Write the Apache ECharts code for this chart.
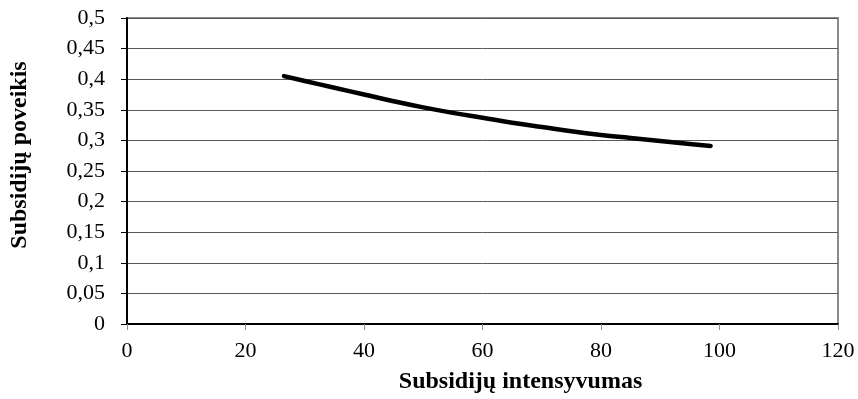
<!DOCTYPE html>
<html>
<head>
<meta charset="utf-8">
<script src="https://cdn.jsdelivr.net/npm/echarts@6/dist/echarts.min.js"></script>
<style>
  html, body { margin: 0; padding: 0; background: #ffffff; }
  #chart { width: 858px; height: 399px; }
</style>
</head>
<body>
<div id="chart"></div>
<script>
// Subsidy intensity (x) against subsidy effect (y)
const intensity = [26.5, 30, 35, 40, 45, 50, 55, 60, 65, 70, 75, 80, 85, 90, 95, 98.5];
const effect    = [0.405, 0.397, 0.386, 0.375, 0.364, 0.354, 0.345, 0.337,
                   0.329, 0.322, 0.315, 0.309, 0.304, 0.299, 0.294, 0.291];

const xTitle = 'Subsidijų intensyvumas';
const yTitle = 'Subsidijų poveikis';

const serif = "'Liberation Serif', 'Times New Roman', serif";

const points = intensity.map((x, i) => [x, effect[i]]);

const chart = echarts.init(document.getElementById('chart'), null, { renderer: 'canvas' });

chart.setOption({
  backgroundColor: '#ffffff',
  animation: false,
  grid: {
    left: 124, right: 20, top: 18, bottom: 71,
    show: true,
    borderColor: '#8c8c8c',
    borderWidth: 2,
    backgroundColor: 'transparent'
  },
  xAxis: {
    type: 'value',
    min: 0, max: 120, interval: 20,
    name: xTitle,
    nameLocation: 'middle',
    nameGap: 46,
    nameTextStyle: {
      fontFamily: serif, fontSize: 24, fontWeight: 'bold', color: '#000',
      padding: [0, 0, 0, 76]
    },
    axisLine: { lineStyle: { color: '#000', width: 2 } },
    axisTick: { length: 6, lineStyle: { color: '#8c8c8c', width: 1 } },
    axisLabel: { margin: 16, fontFamily: serif, fontSize: 22, color: '#000' },
    splitLine: { show: false }
  },
  yAxis: {
    type: 'value',
    min: 0, max: 0.5, interval: 0.05,
    name: yTitle,
    nameLocation: 'middle',
    nameGap: 95,
    nameTextStyle: {
      fontFamily: serif, fontSize: 24, fontWeight: 'bold', color: '#000',
      padding: [0, 0, 0, 32]
    },
    axisLine: { show: true, lineStyle: { color: '#000', width: 2 } },
    axisTick: { show: true, length: 6, lineStyle: { color: '#000', width: 1 } },
    axisLabel: {
      margin: 22, fontFamily: serif, fontSize: 22, color: '#000',
      formatter: v => String(+v.toFixed(2)).replace('.', ',')
    },
    splitLine: { show: true, lineStyle: { color: '#5a5a5a', width: 1 } }
  },
  series: [{
    type: 'line',
    data: points,
    smooth: true,
    symbol: 'none',
    lineStyle: { color: '#000', width: 4.5, cap: 'round', join: 'round' }
  }]
});
</script>
</body>
</html>
